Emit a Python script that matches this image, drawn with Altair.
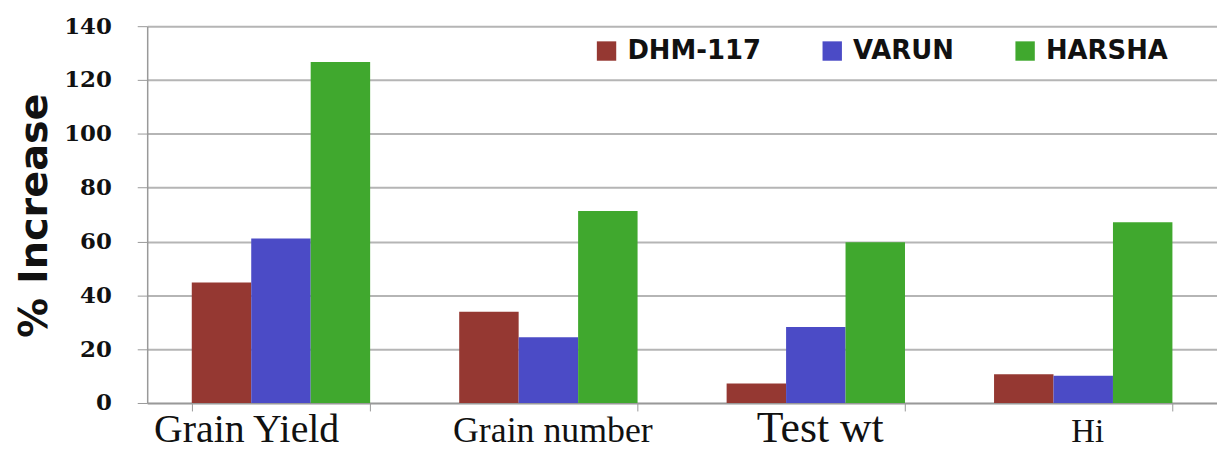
import altair as alt
import pandas as pd

categories = ["Grain Yield", "Grain number", "Test wt", "Hi"]
varieties = ["DHM-117", "VARUN", "HARSHA"]
dhm = [44.8, 33.9, 7.2, 10.7]
varun = [61.1, 24.4, 28.2, 10.1]
harsha = [126.7, 71.3, 59.7, 67.2]
colors = ["#953832", "#4b4bc6", "#40a82e"]
y_ticks = [0, 20, 40, 60, 80, 100, 120, 140]

rows = []
for i, c in enumerate(categories):
    for v, vals in zip(varieties, [dhm, varun, harsha]):
        rows.append({"trait": c, "variety": v, "value": vals[i]})
df = pd.DataFrame(rows)

x_axis = alt.Axis(
    title=None,
    labelAngle=0,
    labelFont="Liberation Serif",
    labelColor="#111",
    labelFontSize={
        "condition": [
            {"test": "datum.label == 'Grain Yield'", "value": 40},
            {"test": "datum.label == 'Grain number'", "value": 36},
            {"test": "datum.label == 'Test wt'", "value": 44},
        ],
        "value": 33,
    },
    labelOffset={
        "condition": [
            {"test": "datum.label == 'Grain Yield'", "value": -35},
        ],
        "value": 4,
    },
    labelPadding=31,
    labelBaseline="alphabetic",
    labelLimit=400,
    tickBand="extent",
    tickSize=8,
    tickColor="#999",
    domainColor="#999",
    domainWidth=1.5,
    grid=False,
)

y_axis = alt.Axis(
    values=y_ticks,
    title="% Increase",
    titleFont="DejaVu Sans",
    titleFontSize=40,
    titleFontWeight="bold",
    titleColor="#111",
    titleX=-101,
    titleY=190,
    titleAngle=270,
    titleAlign="center",
    titleBaseline="alphabetic",
    labelFont="DejaVu Serif",
    labelFontSize=23,
    labelFontWeight="bold",
    labelColor="#111",
    labelPadding=26,
    tickSize=10,
    tickColor="#999",
    domainColor="#999",
    domainWidth=1.5,
    gridColor="#b5b5b5",
    gridWidth=2,
)

chart = (
    alt.Chart(df)
    .mark_bar()
    .encode(
        x=alt.X(
            "trait:N",
            sort=categories,
            scale=alt.Scale(paddingInner=0.333, paddingOuter=0.1667),
            axis=x_axis,
        ),
        xOffset=alt.XOffset(
            "variety:N",
            sort=varieties,
            scale=alt.Scale(paddingInner=0, paddingOuter=0),
        ),
        y=alt.Y(
            "value:Q",
            scale=alt.Scale(domain=[0, 140], nice=False),
            axis=y_axis,
        ),
        color=alt.Color(
            "variety:N",
            sort=varieties,
            scale=alt.Scale(domain=varieties, range=colors),
            legend=alt.Legend(
                title=None,
                orient="none",
                legendX=449,
                legendY=12,
                direction="horizontal",
                symbolType="square",
                symbolSize=380,
                symbolStrokeWidth=0,
                labelFont="DejaVu Sans",
                labelFontSize=26,
                labelFontWeight="bold",
                labelColor="#111",
                labelOffset=8,
                columnPadding=58,
                padding=0,
                labelLimit=300,
            ),
        ),
    )
    .properties(
        width=1076,
        height=379,
        autosize=alt.AutoSizeParams(type="none"),
        padding={"left": 140, "top": 17, "right": 0, "bottom": 48},
    )
    .configure_view(strokeWidth=0)
)

chart.save("out.html", embed_options={"renderer": "svg", "actions": False})
